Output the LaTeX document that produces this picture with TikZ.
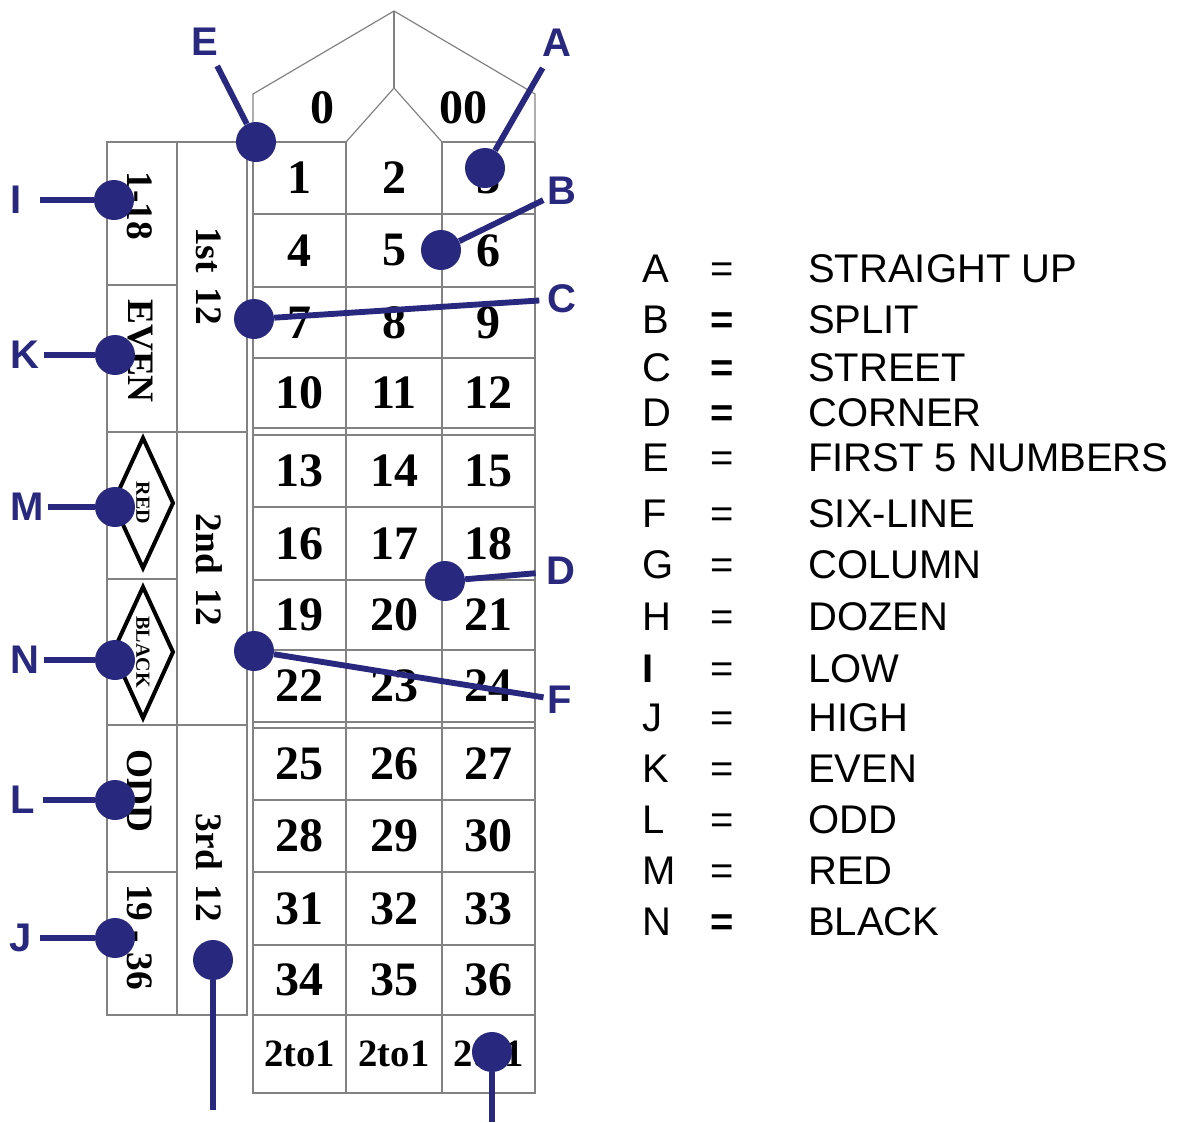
\documentclass[tikz,border=0pt]{standalone}
\usepackage{fontspec}
\setmainfont{Liberation Serif}
\newfontfamily\sansf{Liberation Sans}
\definecolor{mk}{RGB}{40,40,126}
\definecolor{gridc}{RGB}{130,130,130}
\begin{document}
\begin{tikzpicture}[x=0.75pt,y=-0.75pt,
  gl/.style={draw=gridc, line width=0.9pt},
  num/.style={font=\fontsize{36}{40}\selectfont\bfseries, inner sep=0pt},
  twotoone/.style={font=\fontsize{29}{32}\selectfont\bfseries, inner sep=0pt},
  outs/.style={font=\fontsize{28}{32}\selectfont\bfseries, inner sep=0pt, rotate=-90},
  smalls/.style={font=\fontsize{15}{18}\selectfont\bfseries, inner sep=0pt, rotate=-90},
  diam/.style={draw=black, line width=3pt, line join=miter},
  dot/.style={circle, fill=mk, minimum size=30pt, inner sep=0pt},
  lbl/.style={font=\sansf\fontsize{30}{34}\selectfont\bfseries, text=mk, inner sep=3pt},
  conn/.style={draw=mk, line width=4.4pt},
  legt/.style={font=\sansf\fontsize{30}{34}\selectfont, inner sep=0pt}
]
\useasboundingbox (0,0) rectangle (1184,1122);

% ---- zero area
\draw[gl] (253,142) -- (253,94) -- (394,11) -- (535,94) -- (535,142);
\draw[gl] (394,11) -- (394,88);
\draw[gl] (346,142) -- (394,88) -- (442,142);
\draw[gl] (253,142) -- (346,142) (442,142) -- (535,142);
% ---- number grid
\draw[gl] (253,142) -- (253,1093) -- (535,1093) -- (535,142);
\draw[gl] (346,142) -- (346,1093) (442,142) -- (442,1093);
\foreach \yy in {214,287,358,428,435,507,580,650,722,728,800,872,945,1015}
  \draw[gl] (253,\yy) -- (535,\yy);
% ---- outside bets
\draw[gl] (107,142) rectangle (247,1015);
\draw[gl] (247,142) -- (253,142);
\draw[gl] (177,142) -- (177,1015);
\foreach \yy in {432,725} \draw[gl] (107,\yy) -- (247,\yy);
\foreach \yy in {285,579,872} \draw[gl] (107,\yy) -- (177,\yy);

% ---- numbers
\node[num] (z0) at (322,108) {0};
\node[num] (z00) at (463,108) {00};
\foreach \r/\yy in {0/178,1/250.5,2/322.5,3/393,4/471,5/543.5,6/615,7/686,8/764,9/836,10/908.5,11/980}
  \foreach \c/\xx in {1/299.5,2/394,3/488.5} {
    \pgfmathtruncatemacro\nn{3*\r+\c}
    \node[num] (n\nn) at (\xx,\yy) {\nn};
  }
\node[twotoone] (c1) at (299.5,1054) {2to1};
\node[twotoone] (c2) at (394,1054) {2to1};
\node[twotoone] (c3) at (488.5,1054) {2to1};

% ---- outside texts
\node[outs] (t118) at (140,206) {1-18};
\node[outs] (teven) at (140,351) {EVEN};
\draw[diam] (143,438) -- (173,503) -- (143,568) -- (113,503) -- cycle;
\node[smalls] (tred) at (143,503) {RED};
\draw[diam] (143,587) -- (173,652) -- (143,718) -- (113,652) -- cycle;
\node[smalls] (tblack) at (143,652) {BLACK};
\node[outs] (todd) at (140,791) {ODD};
\node[outs] (t1936) at (140,937) {19 - 36};
\node[outs] (dz1) at (209,276) {1st\hspace{0.4em}12};
\node[outs] (dz2) at (209,570) {2nd\hspace{0.4em}12};
\node[outs] (dz3) at (209,868) {3rd\hspace{0.4em}12};

% ---- marker labels
\node[lbl] (lA) at (557,43) {A};
\node[lbl] (lB) at (562,191) {B};
\node[lbl] (lC) at (562,299) {C};
\node[lbl] (lD) at (561,571) {D};
\node[lbl] (lE) at (205,42) {E};
\node[lbl] (lF) at (560,700) {F};
\node[lbl] (lI) at (16,200) {I};
\node[lbl] (lK) at (25,355) {K};
\node[lbl] (lM) at (27,507) {M};
\node[lbl] (lN) at (25,660) {N};
\node[lbl] (lL) at (23,800) {L};
\node[lbl] (lJ) at (21,938) {J};
\coordinate (gEnd) at (492,1122);
\coordinate (hEnd) at (213,1110);

% ---- marker dots
\node[dot] (dA) at (485,168) {};
\node[dot] (dB) at (441,250) {};
\node[dot] (dC) at (254,319) {};
\node[dot] (dD) at (445,581) {};
\node[dot] (dE) at (256,142) {};
\node[dot] (dF) at (254,651) {};
\node[dot] (dG) at (492,1052) {};
\node[dot] (dH) at (213,960) {};
\node[dot] (dI) at (114,200) {};
\node[dot] (dK) at (115,355) {};
\node[dot] (dM) at (115,507) {};
\node[dot] (dN) at (115,660) {};
\node[dot] (dL) at (115,800) {};
\node[dot] (dJ) at (115,938) {};

% ---- connectors
\draw[conn, shorten <=6pt] (lA) -- (dA);
\draw[conn] (lB) -- (dB);
\draw[conn, shorten <=3pt] (lC) -- (dC);
\draw[conn, shorten <=5pt] (lD) -- (dD);
\draw[conn, shorten <=5pt] (lE) -- (dE);
\draw[conn] (lF) -- (dF);
\draw[conn] (gEnd) -- (dG);
\draw[conn] (hEnd) -- (dH);
\draw[conn, shorten <=11pt] (lI) -- (dI);
\draw[conn] (lK) -- (dK);
\draw[conn] (lM) -- (dM);
\draw[conn] (lN) -- (dN);
\draw[conn, shorten <=3pt] (lL) -- (dL);
\draw[conn, shorten <=3pt] (lJ) -- (dJ);

% ---- legend
\foreach \k/\kt/\yy/\ee/\dd in {
  A/A/268/=/STRAIGHT UP,
  B/B/319/\textbf{=}/SPLIT,
  C/C/367/\textbf{=}/STREET,
  D/D/412/\textbf{=}/CORNER,
  E/E/457/=/FIRST 5 NUMBERS,
  F/F/513/=/SIX-LINE,
  G/G/564/=/COLUMN,
  H/H/616/=/DOZEN,
  I/\textbf{I}/668/=/LOW,
  J/J/717/=/HIGH,
  K/K/768/=/EVEN,
  L/L/819/=/ODD,
  M/M/870/=/RED,
  N/N/921/\textbf{=}/BLACK} {
  \node[legt, anchor=base west] (gk\k) at (642,{\yy+14.5}) {\kt};
  \node[legt, anchor=base] (ge\k) at (722,{\yy+14.5}) {\ee};
  \node[legt, anchor=base west] (gd\k) at (808,{\yy+14.5}) {\dd};
}
\end{tikzpicture}
\end{document}
